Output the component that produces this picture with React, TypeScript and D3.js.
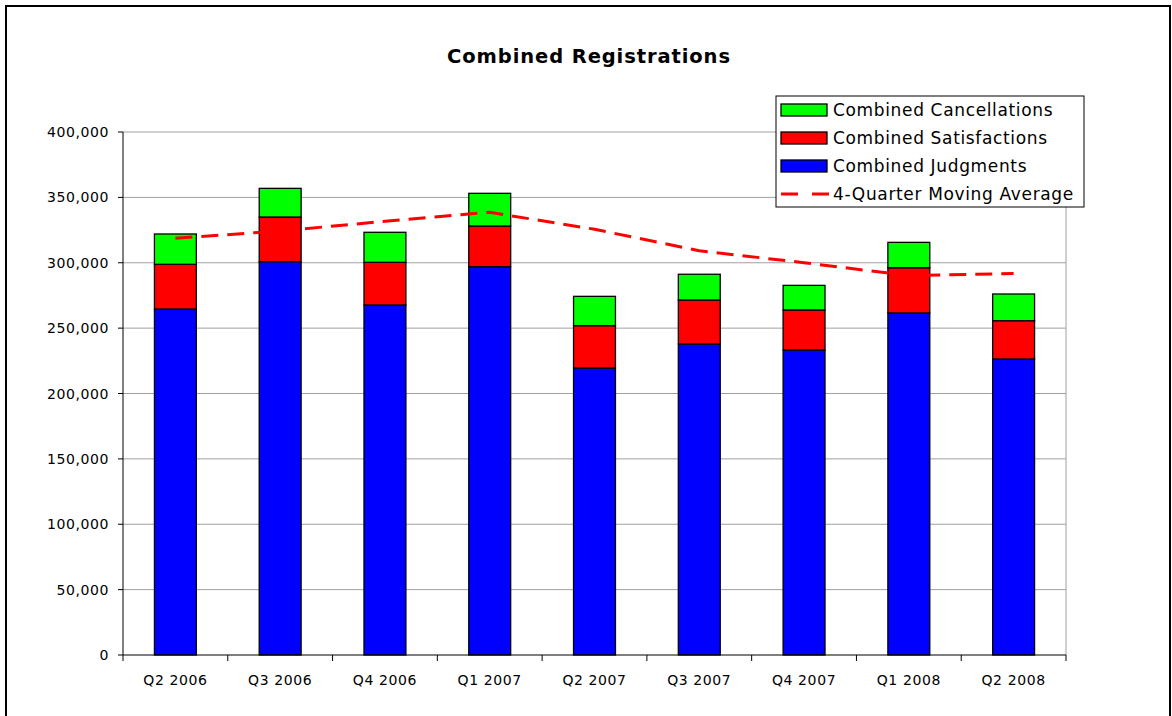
import React from 'react';
import * as d3 from 'd3';

const categories = ['Q2 2006', 'Q3 2006', 'Q4 2006', 'Q1 2007', 'Q2 2007', 'Q3 2007', 'Q4 2007', 'Q1 2008', 'Q2 2008'];
const judgments = [264600, 300800, 267700, 297000, 219500, 237900, 233300, 261600, 226400];
const satisfactions = [34200, 34200, 32600, 31100, 32400, 33600, 30600, 34600, 29300];
const cancellations = [23200, 21900, 23000, 25000, 22400, 19700, 18800, 19400, 20400];
const movingAverage = [318700, 324300, 331700, 338600, 325600, 309200, 300000, 290200, 291800];
const yTicks = [0, 50000, 100000, 150000, 200000, 250000, 300000, 350000, 400000];

const FONT = "'DejaVu Sans', Verdana, sans-serif";

const App = () => {
  const ref = React.useRef<SVGSVGElement | null>(null);

  React.useEffect(() => {
    const svg = d3.select(ref.current);
    svg.selectAll('*').remove();

    const left = 123, right = 1066, top = 132, bottom = 655;

    const x = d3.scaleBand<string>()
      .domain(categories)
      .range([left, right])
      .paddingInner(0.6)
      .paddingOuter(0.3);

    const y = d3.scaleLinear()
      .domain([0, 400000])
      .range([bottom, top]);

    // outer frame
    svg.append('rect')
      .attr('x', 6).attr('y', 6)
      .attr('width', 1164).attr('height', 730)
      .attr('fill', '#fff')
      .attr('stroke', '#000')
      .attr('stroke-width', 2);

    // title
    svg.append('text')
      .attr('x', 589).attr('y', 63)
      .attr('text-anchor', 'middle')
      .attr('font-family', FONT)
      .attr('font-weight', 'bold')
      .attr('font-size', 19.5)
      .attr('letter-spacing', 0.9)
      .text('Combined Registrations');

    // gridlines
    svg.append('g')
      .selectAll('line')
      .data(yTicks.filter(d => d > 0))
      .enter().append('line')
      .attr('x1', left).attr('x2', right)
      .attr('y1', d => y(d)).attr('y2', d => y(d))
      .attr('stroke', '#a0a0a0')
      .attr('stroke-width', 1);

    // right border of plot area
    svg.append('line')
      .attr('x1', right).attr('x2', right)
      .attr('y1', top).attr('y2', bottom)
      .attr('stroke', '#a0a0a0');

    // stacked bars
    const series = [
      { name: 'Combined Judgments', values: judgments, color: '#0000ff' },
      { name: 'Combined Satisfactions', values: satisfactions, color: '#ff0000' },
      { name: 'Combined Cancellations', values: cancellations, color: '#00ff00' },
    ];
    const base = categories.map(() => 0);
    series.forEach(s => {
      svg.append('g')
        .selectAll('rect')
        .data(categories)
        .enter().append('rect')
        .attr('x', d => x(d) as number)
        .attr('width', x.bandwidth())
        .attr('y', (d, i) => y(base[i] + s.values[i]))
        .attr('height', (d, i) => y(base[i]) - y(base[i] + s.values[i]))
        .attr('fill', s.color)
        .attr('stroke', '#000')
        .attr('stroke-width', 1.3);
      s.values.forEach((v, i) => { base[i] += v; });
    });

    // moving average line
    const line = d3.line<number>()
      .x((d, i) => (x(categories[i]) as number) + x.bandwidth() / 2)
      .y(d => y(d));
    svg.append('path')
      .datum(movingAverage)
      .attr('fill', 'none')
      .attr('stroke', '#ff0000')
      .attr('stroke-width', 3)
      .attr('stroke-dasharray', '17,9')
      .attr('d', line);

    // y axis
    const yAxis = svg.append('g');
    yAxis.append('line')
      .attr('x1', left).attr('x2', left)
      .attr('y1', top).attr('y2', bottom)
      .attr('stroke', '#000');
    yTicks.forEach(t => {
      yAxis.append('line')
        .attr('x1', left - 5).attr('x2', left)
        .attr('y1', y(t)).attr('y2', y(t))
        .attr('stroke', '#000');
      yAxis.append('text')
        .attr('x', 109).attr('y', y(t) + 5)
        .attr('text-anchor', 'end')
        .attr('font-family', FONT)
        .attr('font-size', 14)
        .attr('letter-spacing', 0.6)
        .attr('fill', '#000')
        .text(d3.format(',')(t));
    });

    // x axis
    const xAxis = svg.append('g');
    xAxis.append('line')
      .attr('x1', left).attr('x2', right)
      .attr('y1', bottom).attr('y2', bottom)
      .attr('stroke', '#000');
    const step = x.step();
    d3.range(categories.length + 1).forEach(i => {
      const tx = left + i * step;
      xAxis.append('line')
        .attr('x1', tx).attr('x2', tx)
        .attr('y1', bottom).attr('y2', bottom + 6)
        .attr('stroke', '#000');
    });
    xAxis.selectAll('text')
      .data(categories)
      .enter().append('text')
      .attr('x', d => (x(d) as number) + x.bandwidth() / 2)
      .attr('y', 685)
      .attr('text-anchor', 'middle')
      .attr('font-family', FONT)
      .attr('font-size', 14)
      .attr('letter-spacing', 0.6)
      .text(d => d);

    // legend
    const lg = svg.append('g');
    lg.append('rect')
      .attr('x', 776).attr('y', 96)
      .attr('width', 308).attr('height', 111)
      .attr('fill', '#fff')
      .attr('stroke', '#000')
      .attr('stroke-width', 1);
    const legendItems = [series[2], series[1], series[0]];
    legendItems.forEach((s, i) => {
      const cy = 110 + i * 28;
      lg.append('rect')
        .attr('x', 781).attr('y', cy - 6)
        .attr('width', 46).attr('height', 12)
        .attr('fill', s.color)
        .attr('stroke', '#000')
        .attr('stroke-width', 1.3);
      lg.append('text')
        .attr('x', 833).attr('y', cy + 6)
        .attr('font-family', FONT)
        .attr('font-size', 17)
        .attr('letter-spacing', 0.65)
        .text(s.name);
    });
    const cy4 = 110 + 3 * 28;
    lg.append('line')
      .attr('x1', 781).attr('x2', 829)
      .attr('y1', cy4).attr('y2', cy4)
      .attr('stroke', '#ff0000')
      .attr('stroke-width', 3)
      .attr('stroke-dasharray', '17,14');
    lg.append('text')
      .attr('x', 833).attr('y', cy4 + 6)
      .attr('font-family', FONT)
      .attr('font-size', 17)
      .attr('letter-spacing', 0.65)
      .text('4-Quarter Moving Average');
  }, []);

  return (
    <div style={{ position: 'absolute', left: 0, top: 0 }}>
      <svg ref={ref} width={1172} height={716} style={{ display: 'block' }} />
    </div>
  );
};

export default App;
